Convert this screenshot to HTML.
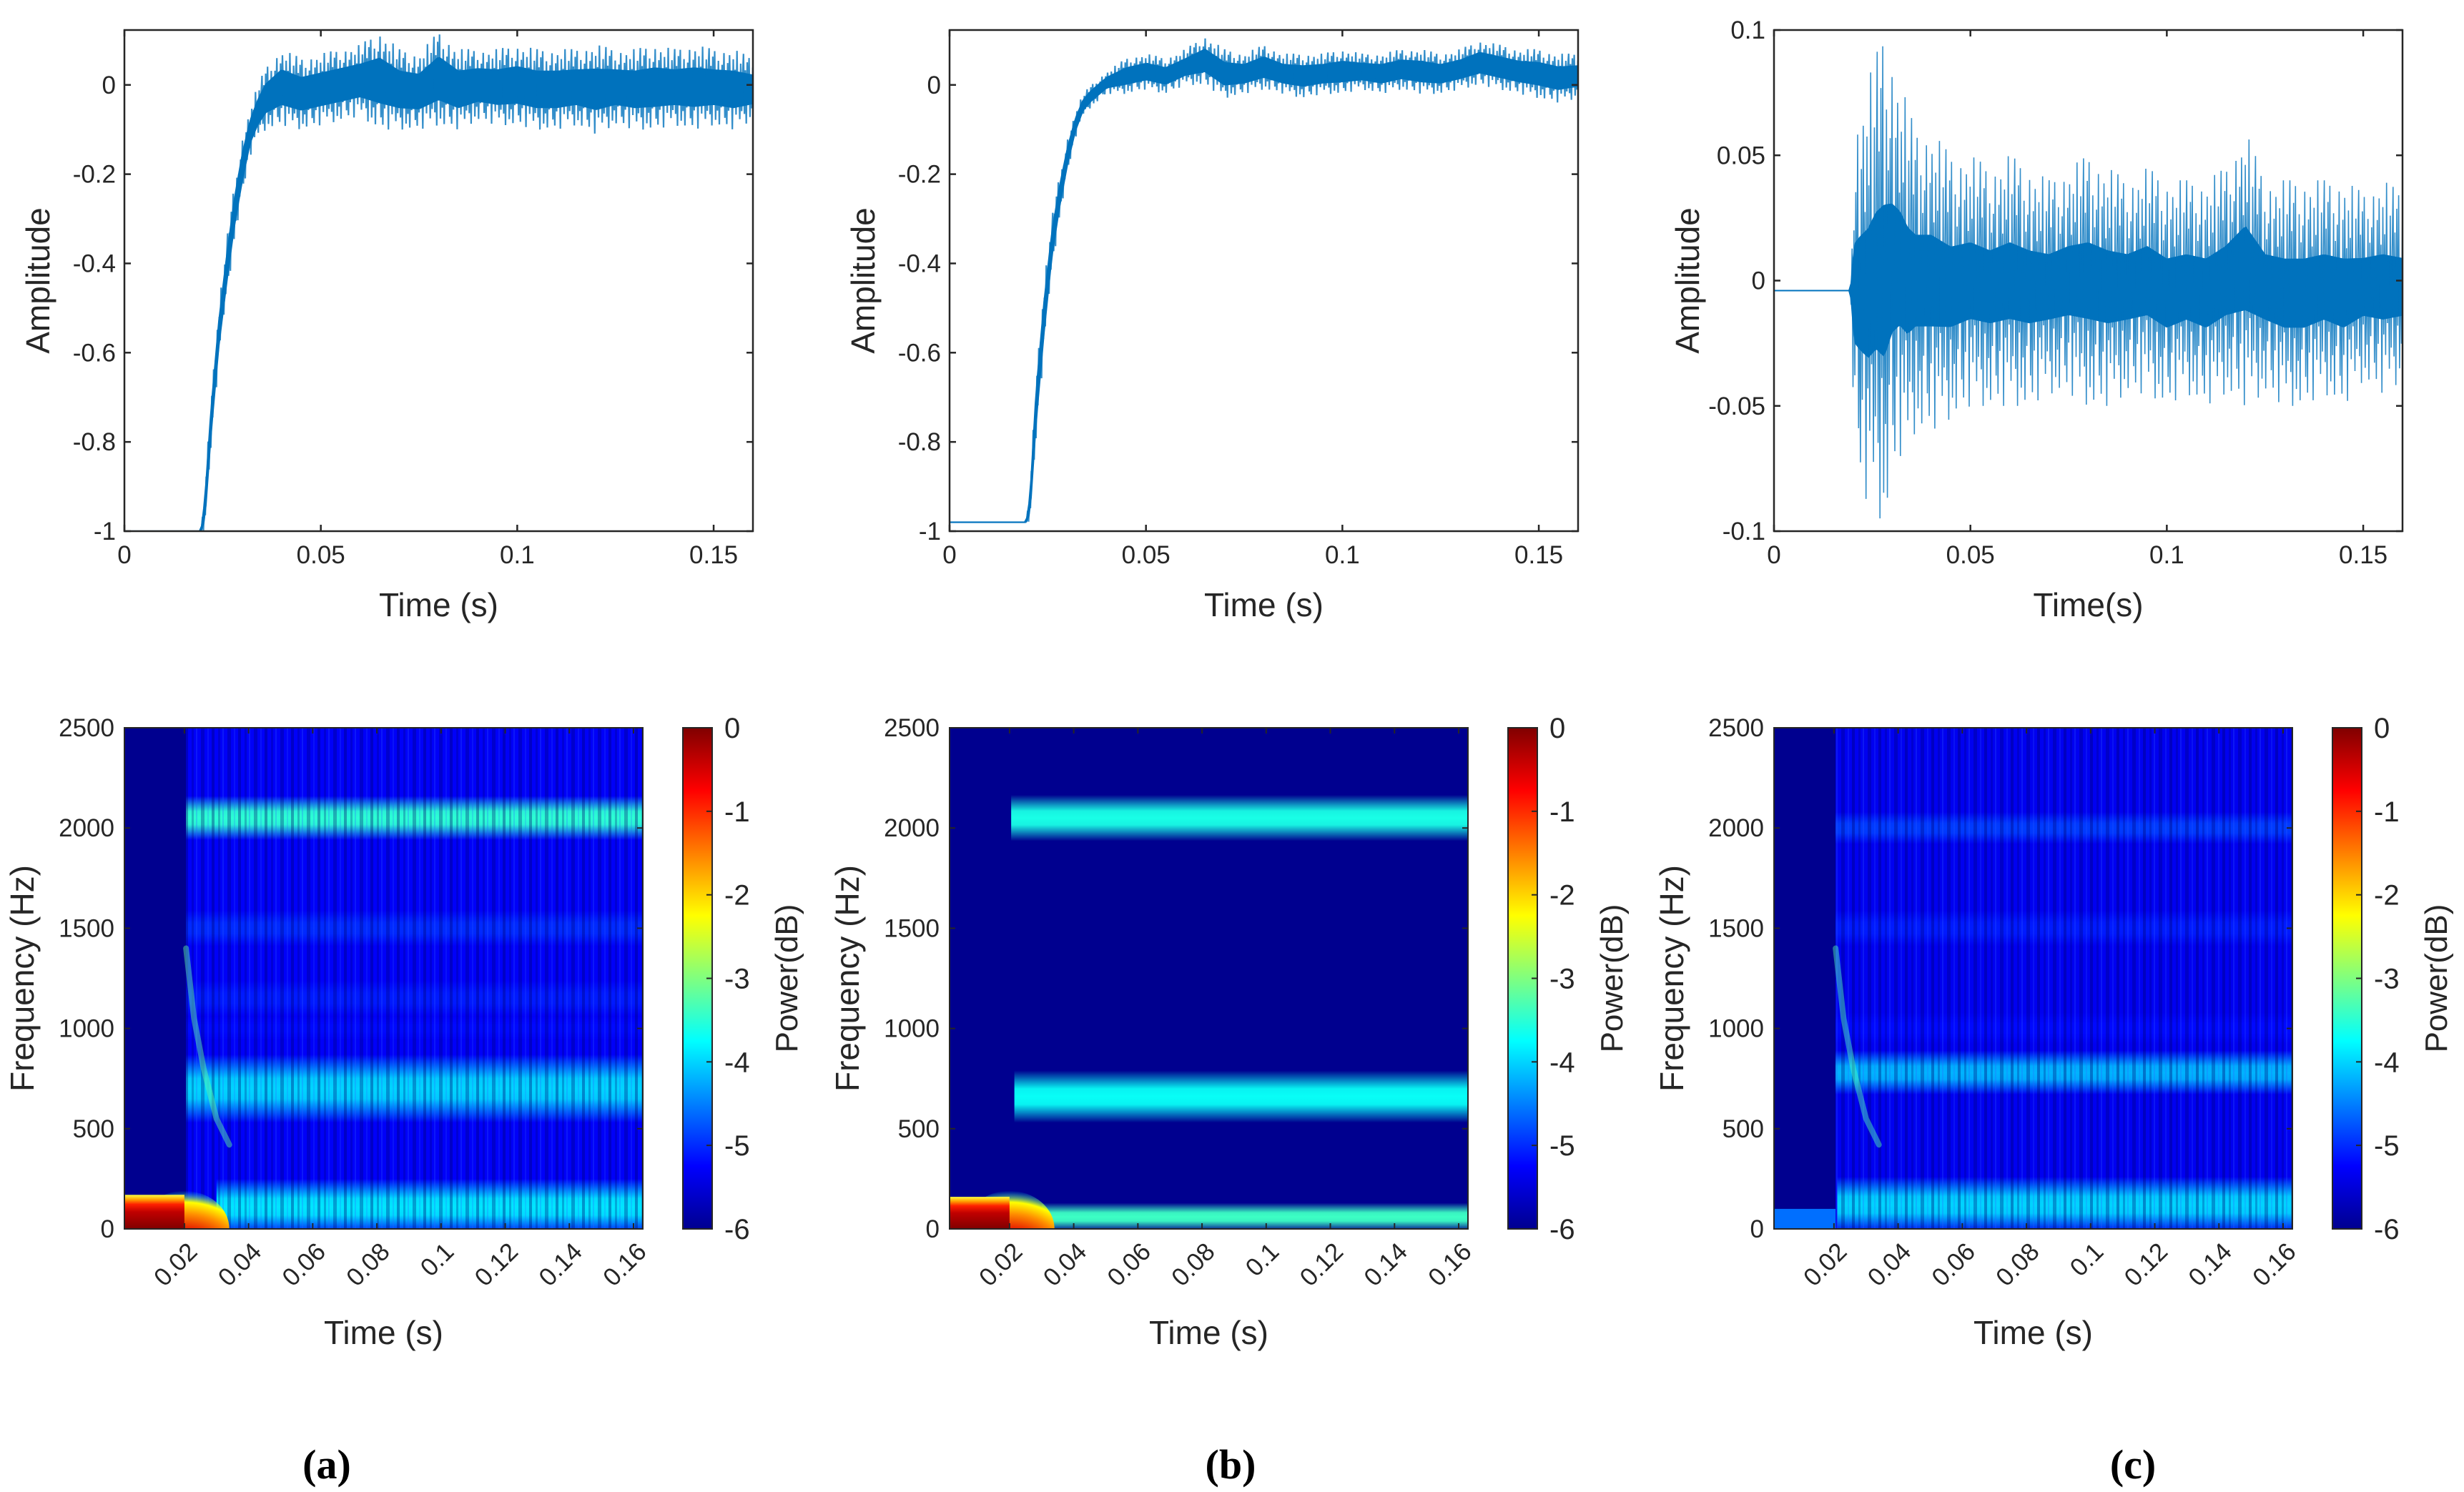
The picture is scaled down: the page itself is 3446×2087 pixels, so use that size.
<!DOCTYPE html>
<html><head><meta charset="utf-8">
<style>
html,body{margin:0;padding:0;background:#fff;}
svg{display:block;font-family:"Liberation Sans",sans-serif;}
</style></head>
<body>
<svg id="fig" xmlns="http://www.w3.org/2000/svg" width="3446" height="2087" viewBox="0 0 3446 2087">
<defs>
<linearGradient id="jetbar" x1="0" y1="1" x2="0" y2="0">
<stop offset="0" stop-color="#00008F"/><stop offset="0.125" stop-color="#0000FF"/><stop offset="0.375" stop-color="#00FFFF"/><stop offset="0.625" stop-color="#FFFF00"/><stop offset="0.875" stop-color="#FF0000"/><stop offset="1" stop-color="#800000"/>
</linearGradient>
<pattern id="streaks" width="37" height="40" patternUnits="userSpaceOnUse">
<rect x="0" y="0" width="4" height="40" fill="#00006a" opacity="0.35"/>
<rect x="9" y="0" width="3" height="40" fill="#00006a" opacity="0.25"/>
<rect x="15" y="0" width="2" height="40" fill="#3060ff" opacity="0.25"/>
<rect x="22" y="0" width="5" height="40" fill="#00006a" opacity="0.3"/>
<rect x="31" y="0" width="2" height="40" fill="#3060ff" opacity="0.2"/>
</pattern>
<radialGradient id="blob" cx="0.5" cy="1" r="1" fx="0.5" fy="1">
<stop offset="0" stop-color="#800000"/><stop offset="0.45" stop-color="#e00000"/><stop offset="0.7" stop-color="#ff9000"/><stop offset="0.85" stop-color="#ffff00"/><stop offset="1" stop-color="#00ffff" stop-opacity="0"/>
</radialGradient>
<linearGradient id="redv" x1="0" y1="1" x2="0" y2="0">
<stop offset="0" stop-color="#800000"/><stop offset="0.5" stop-color="#c00000"/><stop offset="0.72" stop-color="#ff2000"/><stop offset="0.86" stop-color="#ffa000"/><stop offset="1" stop-color="#ffff40"/>
</linearGradient>
</defs>
</svg>
<script>
// ---------- DATA ----------
const sigT = [0,0.0195,0.0205,0.022,0.024,0.026,0.028,0.030,0.032,0.034,0.036,0.040,0.045,0.050,0.055,0.060,0.065,0.070,0.075,0.080,0.085,0.090,0.095,0.100,0.105,0.110,0.115,0.120,0.125,0.130,0.135,0.140,0.145,0.150,0.155,0.160];
const aHi = [-1,-1,-0.9,-0.7,-0.5,-0.35,-0.22,-0.12,-0.05,0.0,0.04,0.08,0.06,0.07,0.08,0.09,0.12,0.08,0.07,0.12,0.08,0.08,0.08,0.09,0.08,0.08,0.08,0.09,0.08,0.08,0.09,0.08,0.09,0.08,0.08,0.06];
const aLo = [-1,-1,-1,-0.82,-0.62,-0.48,-0.35,-0.25,-0.16,-0.12,-0.1,-0.09,-0.1,-0.09,-0.08,-0.07,-0.1,-0.1,-0.1,-0.09,-0.1,-0.08,-0.09,-0.09,-0.1,-0.1,-0.09,-0.11,-0.09,-0.1,-0.1,-0.09,-0.1,-0.09,-0.1,-0.08];
const bHi = [-0.98,-0.98,-0.9,-0.65,-0.45,-0.3,-0.2,-0.12,-0.06,-0.02,0.0,0.03,0.06,0.07,0.06,0.08,0.11,0.08,0.07,0.09,0.07,0.07,0.07,0.08,0.07,0.07,0.08,0.08,0.07,0.08,0.1,0.09,0.08,0.08,0.07,0.07];
const bLo = [-0.98,-0.98,-0.98,-0.8,-0.6,-0.42,-0.3,-0.2,-0.12,-0.07,-0.05,-0.02,-0.02,-0.01,-0.02,0.0,0.0,-0.03,-0.02,-0.01,-0.02,-0.03,-0.02,-0.02,-0.01,-0.02,-0.01,-0.02,-0.02,-0.01,0.0,-0.01,-0.02,-0.03,-0.04,-0.03];
const cHi = [-0.004,-0.004,0.06,0.07,0.08,0.09,0.1,0.09,0.08,0.07,0.06,0.06,0.05,0.05,0.045,0.05,0.045,0.04,0.045,0.05,0.045,0.04,0.045,0.04,0.04,0.04,0.045,0.06,0.04,0.04,0.04,0.04,0.04,0.035,0.04,0.035];
const cLo = [-0.004,-0.004,-0.07,-0.08,-0.09,-0.09,-0.1,-0.08,-0.07,-0.07,-0.06,-0.06,-0.055,-0.05,-0.05,-0.05,-0.05,-0.045,-0.045,-0.05,-0.05,-0.045,-0.045,-0.05,-0.045,-0.05,-0.045,-0.05,-0.045,-0.05,-0.05,-0.045,-0.05,-0.04,-0.045,-0.04];
const timeTicks = [0,0.05,0.1,0.15];
const timeTickLabels = ["0","0.05","0.1","0.15"];
const ampTicksAB = [-1,-0.8,-0.6,-0.4,-0.2,0];
const ampTickLabelsAB = ["-1","-0.8","-0.6","-0.4","-0.2","0"];
const ampTicksC = [-0.1,-0.05,0,0.05,0.1];
const ampTickLabelsC = ["-0.1","-0.05","0","0.05","0.1"];
const specTimeTicks = [0.02,0.04,0.06,0.08,0.1,0.12,0.14,0.16];
const specTimeLabels = ["0.02","0.04","0.06","0.08","0.1","0.12","0.14","0.16"];
const freqTicks = [0,500,1000,1500,2000,2500];
const cbTicks = [-6,-5,-4,-3,-2,-1,0];
// spectrogram bands (frequency centre, half-width, power dB, start time)
const aBandFreq = [2050,700,1500,1150,1000,110];
const aBandHalf = [110,170,90,90,60,140];
const aBandPower = [-3.5,-4.0,-5.0,-5.1,-5.2,-3.9];
const aBandStart = [0.0205,0.0205,0.0205,0.0205,0.0205,0.03];
const bBandFreq = [2050,660,60];
const bBandHalf = [115,130,70];
const bBandPower = [-3.6,-3.7,-3.4];
const bBandStart = [0.0205,0.0215,0.03];
const cBandFreq = [2000,1500,1000,780,120];
const cBandHalf = [80,90,80,110,140];
const cBandPower = [-4.9,-5.1,-5.2,-4.2,-4.0];
const cBandStart = [0.0205,0.0205,0.0205,0.0205,0.021];
const chirpT = [0.0205,0.023,0.026,0.030,0.034];
const chirpF = [1400,1050,800,550,420];

// ---------- HELPERS ----------
const NS="http://www.w3.org/2000/svg";
const svg=document.getElementById('fig');
function mk(tag,attrs,parent){const e=document.createElementNS(NS,tag);for(const k in attrs)e.setAttribute(k,attrs[k]);(parent||svg).appendChild(e);return e;}
function jet(v){const f=Math.max(0,Math.min(1,(v+6)/6));
 const st=[[0,[0,0,143]],[0.125,[0,0,255]],[0.375,[0,255,255]],[0.625,[255,255,0]],[0.875,[255,0,0]],[1,[128,0,0]]];
 for(let i=1;i<st.length;i++){if(f<=st[i][0]){const a=st[i-1],b=st[i],r=(f-a[0])/(b[0]-a[0]);
 return 'rgb('+a[1].map((c,j)=>Math.round(c+(b[1][j]-c)*r)).join(',')+')';}}return 'rgb(128,0,0)';}
function interp(xs,ys,x){if(x<=xs[0])return ys[0];for(let i=1;i<xs.length;i++){if(x<=xs[i]){const r=(x-xs[i-1])/(xs[i]-xs[i-1]);return ys[i-1]+(ys[i]-ys[i-1])*r;}}return ys[ys.length-1];}
const TXT='#262626';
let gid=0;
const zig=[1,-0.7,0.55,-1,0.8,-0.4,0.95,-0.85,0.3,-0.6,0.7,-0.95,0.45,-0.5,0.6,-0.3,0.9,-0.75,0.2,-0.9,0.65,-0.55,0.85,-0.2,0.4,-1,0.75,-0.45,0.5,-0.65,1,-0.35,0.25,-0.8,0.7,-0.6,0.35];

// ---------- TIME-SERIES PANELS ----------
const topY0=42, topY1=743, topW=879;
function timePanel(x0,hi,lo,yMin,yMax,yt,ytl,name,xlabel,lw,coreF){
 const g=mk('g',{});
 
 
 const xs=t=>x0+t/0.16*topW;
 const ys=v=>topY1-(v-yMin)/(yMax-yMin)*(topY1-topY0);
 const clip='clip'+(gid++);
 const cp=mk('clipPath',{id:clip},g);mk('rect',{x:x0,y:topY0,width:topW,height:topY1-topY0},cp);
 const sg=mk('g',{'clip-path':'url(#'+clip+')'},g);
 let up=[],dn=[];
 for(let px=0;px<=topW;px+=3){const t=px/topW*0.16;const h=interp(sigT,hi,t),l=interp(sigT,lo,t);const m=(h+l)/2,d=(h-l)/2;
  up.push(xs(t)+','+ys(m+d*coreF));dn.unshift(xs(t)+','+ys(m-d*coreF));}
 const core=mk('polygon',{points:up.concat(dn).join(' '),fill:'#0072BD',stroke:'#0072BD','stroke-width':2},sg);
 
 
 let pts=[];let k=0;
 for(let px=0;px<=topW;px+=1.3){const t=px/topW*0.16;const h=interp(sigT,hi,t),l=interp(sigT,lo,t);const m=(h+l)/2,d=(h-l)/2;
  pts.push(xs(t).toFixed(1)+','+ys(m+d*zig[k%zig.length]).toFixed(1));k++;}
 const line=mk('polyline',{points:pts.join(' '),fill:'none',stroke:'#0072BD','stroke-width':lw,'stroke-opacity':0.8},sg);
 
 
 const box=mk('rect',{x:x0,y:topY0,width:topW,height:topY1-topY0,fill:'none',stroke:'#262626','stroke-width':2.5},g);
 
 
 timeTicks.forEach((t,i)=>{const x=xs(t);
  mk('line',{x1:x,y1:topY1,x2:x,y2:topY1-9,stroke:'#262626','stroke-width':2.5},g);
  mk('line',{x1:x,y1:topY0,x2:x,y2:topY0+9,stroke:'#262626','stroke-width':2.5},g);
  const tl=mk('text',{x:x,y:topY1+45,'font-size':35,'text-anchor':'middle',fill:TXT},g);tl.textContent=timeTickLabels[i];
  
  });
 yt.forEach((v,i)=>{const y=ys(v);
  mk('line',{x1:x0,y1:y,x2:x0+9,y2:y,stroke:'#262626','stroke-width':2.5},g);
  mk('line',{x1:x0+topW,y1:y,x2:x0+topW-9,y2:y,stroke:'#262626','stroke-width':2.5},g);
  const tl=mk('text',{x:x0-12,y:y+12,'font-size':35,'text-anchor':'end',fill:TXT},g);tl.textContent=ytl[i];
  
  });
 const xl=mk('text',{x:x0+topW/2,y:topY1+119,'font-size':46,'text-anchor':'middle',fill:TXT},g);xl.textContent=xlabel;
 
 
 const yl=mk('text',{x:0,y:0,'font-size':46,'text-anchor':'middle',fill:TXT,transform:'translate('+(x0-105)+','+((topY0+topY1)/2)+') rotate(-90)'},g);yl.textContent='Amplitude';
 
 
}
timePanel(174,aHi,aLo,-1,0.123,ampTicksAB,ampTickLabelsAB,'panel-a','Time (s)',2.2,0.45);
timePanel(1328,bHi,bLo,-1,0.123,ampTicksAB,ampTickLabelsAB,'panel-b','Time (s)',2.2,0.45);
timePanel(2481,cHi,cLo,-0.1,0.1,ampTicksC,ampTickLabelsC,'panel-c','Time(s)',1.6,0.3);

// ---------- SPECTROGRAM PANELS ----------
const sY0=1018,sY1=1719,sW=725,tMin=0.0013,tMax=0.1629;
function specPanel(x0,bf,bh,bp,bs,name,opts){
 const g=mk('g',{});
 
 
 const xs=t=>x0+(t-tMin)/(tMax-tMin)*sW;
 const ys=f=>sY1-f/2500*(sY1-sY0);
 const clip='clip'+(gid++);
 const cp=mk('clipPath',{id:clip},g);mk('rect',{x:x0,y:sY0,width:sW,height:sY1-sY0},cp);
 const sg=mk('g',{'clip-path':'url(#'+clip+')'},g);
 const bg=mk('rect',{x:x0,y:sY0,width:sW,height:sY1-sY0,fill:'#00008F'},sg);
 
 
 if(opts.base){const b=mk('rect',{x:xs(0.0205),y:sY0,width:xs(tMax)-xs(0.0205),height:sY1-sY0,fill:jet(opts.base)},sg);
  
  }
 bf.forEach((f,i)=>{const id='bg'+(gid++);
  const lg=mk('linearGradient',{id:id,x1:0,y1:0,x2:0,y2:1},sg);
  const c=jet(bp[i]);
  [[0,0],[0.2,0.55],[0.35,0.95],[0.5,1],[0.65,0.95],[0.8,0.55],[1,0]].forEach(s=>mk('stop',{offset:s[0],'stop-color':c,'stop-opacity':s[1]},lg));
  const r=mk('rect',{x:xs(bs[i]),y:ys(f+bh[i]),width:xs(tMax)-xs(bs[i]),height:ys(f-bh[i])-ys(f+bh[i]),fill:'url(#'+id+')'},sg);
  
  });
 if(opts.streaks){const s=mk('rect',{x:xs(0.0205),y:sY0,width:xs(tMax)-xs(0.0205),height:sY1-sY0,fill:'url(#streaks)'},sg);
  
  }
 if(opts.chirp){const p=chirpT.map((t,i)=>xs(t)+','+ys(chirpF[i])).join(' ');
  const c=mk('polyline',{points:p,fill:'none',stroke:jet(opts.chirp),'stroke-width':8,'stroke-opacity':0.45,'stroke-linecap':'round'},sg);
  
  }
 if(opts.red){
  const e=mk('ellipse',{cx:xs(0.02),cy:sY1,rx:xs(0.034)-xs(0.02),ry:ys(0)-ys(190),fill:'url(#blob)'},sg);
  
  
  const r=mk('rect',{x:x0,y:ys(opts.red),width:xs(0.02)-x0,height:ys(0)-ys(opts.red),fill:'url(#redv)'},sg);
  
  }
 if(opts.lowBlue){const r=mk('rect',{x:x0,y:ys(opts.lowBlue),width:xs(0.0205)-x0,height:ys(0)-ys(opts.lowBlue),fill:jet(-4.6)},sg);
  
  }
 const box=mk('rect',{x:x0,y:sY0,width:sW,height:sY1-sY0,fill:'none',stroke:'#262626','stroke-width':2},g);
 
 
 specTimeTicks.forEach((t,i)=>{const x=xs(t);
  mk('line',{x1:x,y1:sY1,x2:x,y2:sY1-8,stroke:'#262626','stroke-width':2},g);
  mk('line',{x1:x,y1:sY0,x2:x,y2:sY0+8,stroke:'#262626','stroke-width':2},g);
  const tl=mk('text',{x:0,y:0,'font-size':35,'text-anchor':'end',fill:TXT,transform:'translate('+(x+20)+','+(sY1+34)+') rotate(-45)'},g);tl.textContent=specTimeLabels[i];
  
  });
 freqTicks.forEach(f=>{const y=ys(f);
  mk('line',{x1:x0,y1:y,x2:x0+8,y2:y,stroke:'#262626','stroke-width':2},g);
  mk('line',{x1:x0+sW,y1:y,x2:x0+sW-8,y2:y,stroke:'#262626','stroke-width':2},g);
  const tl=mk('text',{x:x0-14,y:y+12,'font-size':35,'text-anchor':'end',fill:TXT},g);tl.textContent=String(f);
  
  });
 const xl=mk('text',{x:x0+sW/2,y:1880,'font-size':46,'text-anchor':'middle',fill:TXT},g);xl.textContent='Time (s)';
 
 
 const yl=mk('text',{x:0,y:0,'font-size':46,'text-anchor':'middle',fill:TXT,transform:'translate('+(x0-127)+','+((sY0+sY1)/2)+') rotate(-90)'},g);yl.textContent='Frequency (Hz)';
 
 
 const cx=x0+781;
 const cb=mk('rect',{x:cx,y:sY0,width:41,height:sY1-sY0,fill:'url(#jetbar)',stroke:'#262626','stroke-width':2},g);
 
 
 cbTicks.forEach(v=>{const y=sY1-(v+6)/6*(sY1-sY0);
  mk('line',{x1:cx+41,y1:y,x2:cx+33,y2:y,stroke:'#262626','stroke-width':2},g);
  const tl=mk('text',{x:cx+58,y:y+14,'font-size':40,fill:TXT},g);tl.textContent=String(v);
  
  });
 const cl=mk('text',{x:0,y:0,'font-size':44,'text-anchor':'middle',fill:TXT,transform:'translate('+(cx+160)+','+((sY0+sY1)/2)+') rotate(-90)'},g);cl.textContent='Power(dB)';
 
 
}
specPanel(174,aBandFreq,aBandHalf,aBandPower,aBandStart,'panel-a',{base:-5.3,streaks:true,chirp:-3.2,red:170});
specPanel(1328,bBandFreq,bBandHalf,bBandPower,bBandStart,'panel-b',{red:160});
specPanel(2481,cBandFreq,cBandHalf,cBandPower,cBandStart,'panel-c',{base:-5.35,streaks:true,chirp:-3.3,lowBlue:100});

[['(a)',457],['(b)',1721],['(c)',2983]].forEach(p=>{
 const t=mk('text',{x:p[1],y:2068,'font-size':58,'font-weight':'bold','text-anchor':'middle',fill:'#000','font-family':'"Liberation Serif",serif'});
 t.textContent=p[0];
 
 
});
</script>
</body></html>
